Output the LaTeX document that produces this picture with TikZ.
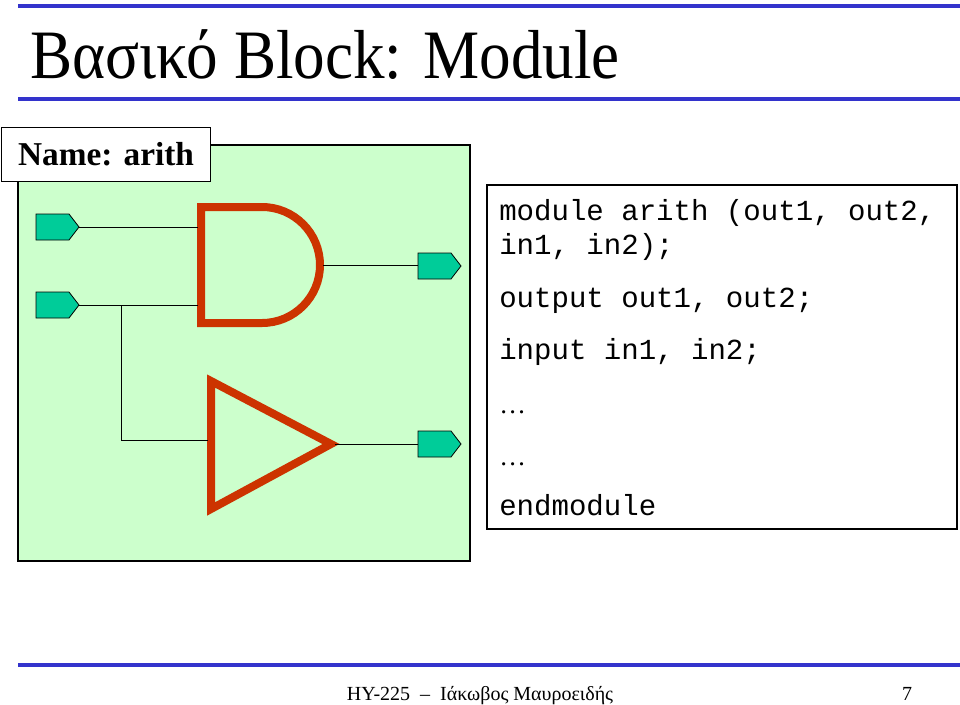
\documentclass[tikz,border=0pt]{standalone}
\usepackage{fontspec}
\setmainfont{Liberation Serif}
\setmonofont{Liberation Mono}
\definecolor{gatered}{HTML}{CC3300}
\definecolor{portgreen}{HTML}{00CC99}
\definecolor{bodygreen}{HTML}{CCFFCC}
\definecolor{barblue}{HTML}{3333CC}
\tikzset
{
    bar/.style    = {draw=barblue, line width=3pt},
    block/.style  = {draw=black, fill=bodygreen, line width=0.8pt},
    port/.style   = {draw=black, fill=portgreen, line width=0.6pt},
    gate/.style   = {draw=gatered, line width=6pt},
    wire/.style   = {draw=black, line width=0.7pt},
    codeline/.style = {anchor=base west, font=\ttfamily\fontsize{21.8}{24}\selectfont, inner sep=0pt}
}
\newcommand\portshape[2]{% left x, top y
  \draw[port] (#1,#2) -- ++(33,0) -- ++(10,13) -- ++(-10,13) -- ++(-33,0) -- cycle;}
\begin{document}
\begin{tikzpicture}[x=0.75pt, y=-0.75pt]
   \useasboundingbox (0,0) rectangle (960,704);

   % title and rules
   \draw[bar] (18,6) -- (960,6);
   \draw[bar] (18,99) -- (960,99);
   \draw[bar] (18,665) -- (960,665);
   \node (title) [anchor=base west, inner sep=0pt, xscale=0.91, font=\fontsize{52}{60}\selectfont] at (30,78) {Βασικό Block: Module};

   % module body
   \draw[block] (18,145) rectangle (470,561);
   \node (name) [draw=black, fill=white, line width=0.8pt, minimum width=209*0.75pt, minimum height=54*0.75pt, anchor=north west, inner sep=0pt, font=\bfseries\fontsize{25}{28}\selectfont] at (1,127) {Name: arith};

   % ports
   \portshape{36}{214}
   \portshape{36}{292}
   \portshape{418}{253}
   \portshape{418}{431}
   \coordinate (in1) at (79,227);
   \coordinate (in2) at (79,305);
   \coordinate (out1) at (418,266);
   \coordinate (out2) at (418,444);
   \coordinate (br) at (121,305);

   % gates
   \draw[gate] (201,207) -- (262,207) arc (-90:90:58) -- (201,323) -- cycle;
   \draw[gate] (211,381) -- (331,444) -- (211,509) -- cycle;
   \coordinate (andL1) at (198,227);
   \coordinate (andL2) at (198,305);
   \coordinate (andR) at (323,265);
   \coordinate (bufL) at (208,440);
   \coordinate (bufR) at (335,444);

   % wires
   \draw[wire] (in1) -- (andL1);
   \draw[wire] (in2) -- (andL2);
   \draw[wire] (br) |- (bufL);
   \draw[wire] (andR) -- (andR -| out1);
   \draw[wire] (bufR) -- (out2);

   % code
   \draw[draw=black, fill=white, line width=0.8pt] (487,185) rectangle (957,529);
   \node (c1) [codeline] at (499,220) {module arith (out1, out2,};
   \node (c2) [codeline] at (499,254) {in1, in2);};
   \node (c3) [codeline] at (499,307) {output out1, out2;};
   \node (c4) [codeline] at (499,359) {input in1, in2;};
   \node (c5) [codeline, font=\fontsize{20}{24}\selectfont] at (499,413) {…};
   \node (c6) [codeline, font=\fontsize{20}{24}\selectfont] at (499,465) {…};
   \node (c7) [codeline] at (499,515) {endmodule};

   % footer
   \node (foot) [anchor=base, inner sep=0pt, font=\fontsize{15}{18}\selectfont] at (480,700) {HY-225 \ – \ Ιάκωβος Μαυροειδής};
   \node (page) [anchor=base, inner sep=0pt, font=\fontsize{15}{18}\selectfont] at (907,700) {7};
\end{tikzpicture}
\end{document}
